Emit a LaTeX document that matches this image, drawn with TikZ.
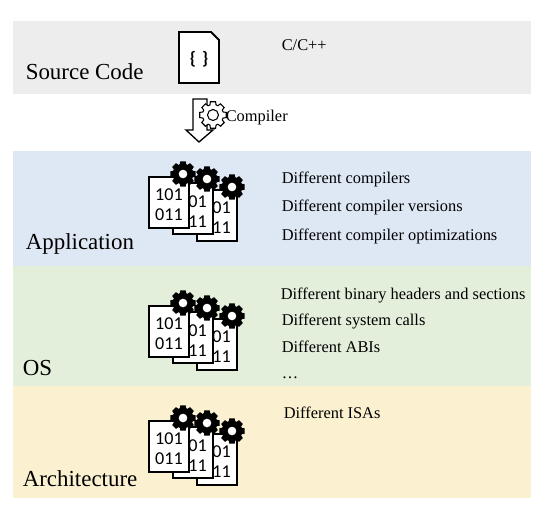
\documentclass[tikz,border=0pt]{standalone}
\usepackage{fontspec}
\setmainfont{Liberation Serif}
\newfontfamily\iconfont{Carlito}
\newcommand{\gearpath}[3]{% outer radius, inner radius, tooth half-width
  (-#3-6:#2) \foreach \a in {0,45,...,315}{ -- (\a-#3-6:#2) -- (\a-#3:#1) -- (\a+#3:#1) -- (\a+#3+6:#2) } -- cycle}
\newcommand{\blackgear}[2]{%
  \begin{scope}[shift={(#1,#2)}]
    \fill[black] \gearpath{13}{10.3}{12};
    \fill[gearhole] (0,0) circle (4.3);
  \end{scope}}
\newcommand{\binpage}[5]{% left, top, right, bottom, baseline offset
  \draw[pageline] (#1,#2) rectangle (#3,#4);
  \node[bintext] at ({(#1+#3)/2},{#2+#5}) {101};
  \node[bintext] at ({(#1+#3)/2},{#2+#5+19.5}) {011};}
\newcommand{\bingroup}[1]{%
  \begin{scope}[yshift=#1*-0.75pt]
    \binpage{197}{190}{237}{241}{18}
    \binpage{173}{183}{213}{234}{19}
    \binpage{149}{177}{189}{228}{18}
    \blackgear{232}{187}
    \blackgear{207}{179}
    \blackgear{183}{174}
  \end{scope}}
\tikzset{
  gearhole/.style={fill=white},
  pageline/.style={draw=black,line width=1.4pt,fill=white},
  bintext/.style={font=\iconfont\fontsize{13.6}{14}\selectfont,inner sep=0pt,text=black},
  title/.style={font=\fontsize{17.2}{20}\selectfont,anchor=base west,inner sep=0pt},
  note/.style={font=\fontsize{12.3}{14}\selectfont,anchor=base west,inner sep=0pt},
  band/.style={draw=none,anchor=north west,inner sep=0pt,minimum width=518*0.75pt},
}
\begin{document}
\begin{tikzpicture}[x=0.75pt,y=-0.75pt]
\useasboundingbox (0,0) rectangle (546,512);
\fill[white] (0,0) rectangle (546,512);
\node[band,fill=black!7,minimum height=73*0.75pt] (srcband) at (13,21) {};
\node[band,fill={rgb,255:red,222;green,232;blue,244},minimum height=115*0.75pt] (appband) at (13,151) {};
\node[band,fill={rgb,255:red,227;green,239;blue,219},minimum height=120*0.75pt] (osband) at (13,266) {};
\node[band,fill={rgb,255:red,251;green,241;blue,208},minimum height=112*0.75pt] (archband) at (13,386) {};
% source file icon
\draw[pageline,fill=white] (179,32) -- (211,32) -- (219,40) -- (219,83) -- (179,83) -- cycle;
\node[font=\iconfont\bfseries\fontsize{13.5}{14}\selectfont,inner sep=0pt] (braces) at (199,59) {\{\,\,\}};
% compiler arrow
\draw[black,line width=1pt,fill=white,line join=miter] (193,99) -- (207,99) -- (207,130) -- (213,130) -- (199,142) -- (186,130) -- (193,130) -- cycle;
\begin{scope}[shift={(213,115)}]
  \draw[black,line width=0.8pt,fill=white] \gearpath{13.5}{10.5}{11};
  \draw[black,line width=0.8pt,fill=white] (0,0) circle (5.5);
\end{scope}
% binary groups
\bingroup{0}
\bingroup{129}
\bingroup{244}
% labels
\node[title] (t1) at (25.5,79) {Source Code};
\node[title] (t2) at (25.5,249) {Application};
\node[title] (t3) at (22.5,375) {OS};
\node[title] (t4) at (22.5,486) {Architecture};
\node[note] (n0) at (281.5,50.5) {C/C++};
\node[note] (n1) at (225.5,121) {Compiler};
\node[note] (n2) at (281.5,183) {Different compilers};
\node[note] (n3) at (281.5,211) {Different compiler versions};
\node[note] (n4) at (281.5,240) {Different compiler optimizations};
\node[note] (n5) at (280.5,299) {Different binary headers and sections};
\node[note] (n6) at (281.5,325) {Different system calls};
\node[note] (n7) at (281.5,352) {Different ABIs};
\node[note] (n8) at (281.5,378) {…};
\node[note] (n9) at (283.5,418) {Different ISAs};
\end{tikzpicture}
\end{document}
